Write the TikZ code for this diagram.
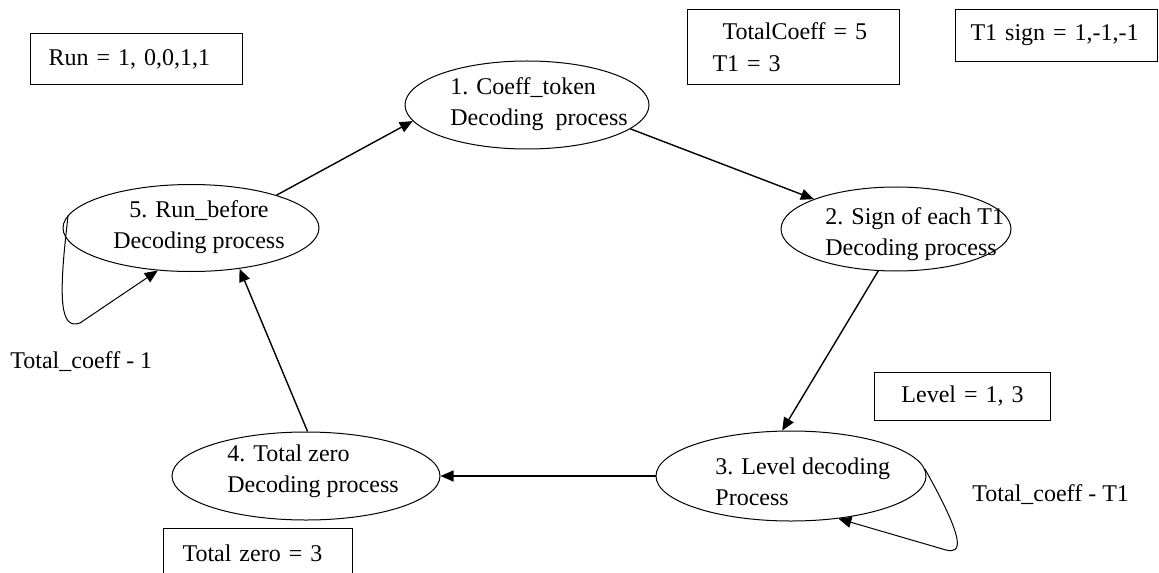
\documentclass[tikz,border=0pt]{standalone}
\usepackage{fontspec}
\setmainfont{Liberation Serif}
\usetikzlibrary{shapes.geometric,arrows.meta}
\tikzset{
  stage/.style={draw,ellipse,line width=0.5pt,inner sep=0pt},
  stagetext/.style={align=left,inner sep=0pt,font=\fontsize{12pt}{15.5pt}\selectfont},
  infobox/.style={draw,line width=0.5pt,anchor=north west,align=left,inner ysep=0pt,font=\fontsize{12pt}{16pt}\selectfont},
  flow/.style={line width=0.7pt,-{Triangle[length=6.5pt,width=5.5pt]}},
  loopline/.style={line width=0.5pt,-{Triangle[length=6.5pt,width=5.5pt]}}
}

\begin{document}
\begin{tikzpicture}[x=0.5pt,y=-0.5pt]
\useasboundingbox (0,0) rectangle (1159,572);
% decoding stages
\node[stage,minimum width=122pt,minimum height=44pt] (c1) at (527,105) {};
\node[stage,minimum width=115pt,minimum height=42pt] (c2) at (896,229) {};
\node[stage,minimum width=135pt,minimum height=45pt] (c3) at (791,476) {};
\node[stage,minimum width=134pt,minimum height=44pt] (c4) at (306,476) {};
\node[stage,minimum width=128pt,minimum height=43.5pt] (c5) at (191,228) {};
\node[stagetext,anchor=west] (t1) at (450,104) {1. Coeff\_token\\Decoding~ process};
\node[stagetext,anchor=west] (t2) at (825,234) {2. Sign of each T1\\Decoding process};
\node[stagetext,anchor=west] (t3) at (715,482) {3. Level decoding\\Process};
\node[stagetext,anchor=west] (t4) at (227,471) {4. Total zero\\Decoding process};
\node[stagetext,align=center] (t5) at (199,227) {5. Run\_before\\Decoding process};
% decoded values
\node[infobox,minimum width=106pt,minimum height=25.5pt,text width=88pt,inner xsep=9pt] (run) at (30,33) {Run = 1, 0,0,1,1};
\node[infobox,minimum width=106pt,minimum height=37.5pt,text width=81pt,inner xsep=12.5pt] (tc) at (687,9) {\hspace*{5pt}TotalCoeff = 5\\T1 = 3};
\node[infobox,minimum width=101pt,minimum height=26pt,text width=86pt,inner xsep=7.5pt] (sign) at (955,9) {T1 sign = 1,-1,-1};
\node[infobox,minimum width=88pt,minimum height=24pt,text width=88pt,inner xsep=0pt,align=center] (lev) at (874,372) {Level = 1, 3};
\node[infobox,minimum width=94.5pt,minimum height=25pt,text width=75.5pt,inner xsep=9.5pt] (tz) at (163,528) {Total zero = 3};
% cycle
\draw[flow] (c5.21) -- (c1.188);
\draw[flow] (c1.-13) -- (c2.160);
\draw[flow] (c2.-113) -- (c3.101);
\draw[flow] (c3.west) -- (c4.east);
\draw[flow] (c4.88) -- (c5.-40);
% repeated stages
\coordinate (l5) at (80,323);
\draw[loopline] (c5.174) .. controls (58,300) and (60,330) .. (l5) -- (c5.232);
\coordinate (l3) at (946,550);
\draw[loopline] (c3.3) .. controls (966,542) and (962,554) .. (l3) -- (c3.-42);
\node[stagetext,anchor=west] (n5) at (10,362) {Total\_coeff - 1};
\node[stagetext,anchor=west] (n3) at (972,495) {Total\_coeff - T1};
\end{tikzpicture}
\end{document}
